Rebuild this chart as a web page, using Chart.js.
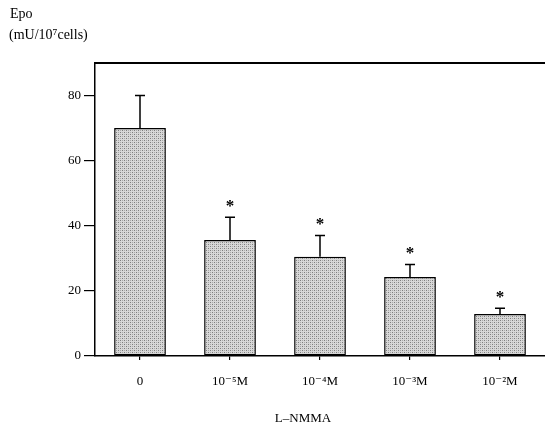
<!DOCTYPE html>
<html>
<head>
<meta charset="utf-8">
<title>Epo vs L-NMMA</title>
<script src="https://cdn.jsdelivr.net/npm/chart.js"></script>
<style>
  body { margin: 0; background: #fff; }
  #wrap { width: 545px; height: 431px; }
</style>
</head>
<body>
<div id="wrap"><canvas id="epoChart" width="545" height="431"></canvas></div>
<script>
// Data
const doses = ['0', '10\u207B\u2075M', '10\u207B\u2074M', '10\u207B\u00B3M', '10\u207B\u00B2M'];
const epoMeans = [70, 35.6, 30.5, 24.3, 12.9];
const epoErrors = [10, 7, 6.5, 3.8, 1.8];
const significant = [false, true, true, true, true];
const yTicks = [0, 20, 40, 60, 80];

const serif = "'Liberation Serif', 'DejaVu Serif', serif";

// Stippled grey fill like the printed bars
function stipple() {
    let c = document.createElement('canvas');
    c.width = 4; c.height = 4;
    let g = c.getContext('2d');
    g.fillStyle = '#d8d8d8';
    g.fillRect(0, 0, 4, 4);
    g.fillStyle = '#7e7e7e';
    g.fillRect(0, 0, 1, 1);
    g.fillRect(2, 2, 1, 1);
    g.fillStyle = '#aaaaaa';
    g.fillRect(2, 0, 1, 1);
    g.fillRect(0, 2, 1, 1);
    return g.createPattern(c, 'repeat');
}

// Error bars, asterisks, top frame line and the free text
const extras = {
    id: 'extras',
    afterDatasetsDraw(chart) {
        const ctx = chart.ctx;
        const y = chart.scales.y;
        const area = chart.chartArea;
        const bars = chart.getDatasetMeta(0).data;
        ctx.save();
        ctx.strokeStyle = '#000';
        ctx.fillStyle = '#000';

        // top frame line
        ctx.lineWidth = 2;
        ctx.beginPath();
        ctx.moveTo(area.left, area.top);
        ctx.lineTo(area.right, area.top);
        ctx.stroke();

        ctx.lineWidth = 1.5;
        bars.forEach((bar, i) => {
            let yBar = y.getPixelForValue(epoMeans[i]);
            let yErr = y.getPixelForValue(epoMeans[i] + epoErrors[i]);
            ctx.beginPath();
            ctx.moveTo(bar.x, yBar);
            ctx.lineTo(bar.x, yErr);
            ctx.moveTo(bar.x - 5, yErr);
            ctx.lineTo(bar.x + 5, yErr);
            ctx.stroke();
            if (significant[i]) {
                ctx.font = 'bold 17px ' + serif;
                ctx.textAlign = 'center';
                ctx.textBaseline = 'middle';
                ctx.fillText('*', bar.x, yErr - 11);
            }
        });

        // axis title texts
        ctx.textAlign = 'left';
        ctx.textBaseline = 'alphabetic';
        ctx.font = '14px ' + serif;
        ctx.fillText('Epo', 10, 18);
        ctx.font = '14px ' + serif;
        ctx.fillText('(mU/10\u2077cells)', 9, 39);
        ctx.textAlign = 'center';
        ctx.font = '13px ' + serif;
        ctx.fillText('L\u2013NMMA', 303, 422);
        ctx.restore();
    }
};

let ctx = document.getElementById('epoChart').getContext('2d');
let epoChart = new Chart(ctx, {
    type: 'bar',
    data: {
        labels: doses,
        datasets: [{
            data: epoMeans,
            backgroundColor: stipple(),
            borderColor: '#000',
            borderWidth: 1.5,
            borderSkipped: false,
            categoryPercentage: 1,
            barPercentage: 0.575
        }]
    },
    options: {
        responsive: false,
        animation: false,
        layout: { padding: { top: 63, right: -3, left: 0, bottom: 0 } },
        plugins: {
            legend: { display: false },
            tooltip: { enabled: false }
        },
        scales: {
            x: {
                afterFit: s => { s.height = 75; },
                grid: {
                    offset: false,
                    drawOnChartArea: false,
                    tickLength: 4,
                    color: '#000',
                    lineWidth: 1.2
                },
                border: { display: true, color: '#000', width: 1.5 },
                ticks: { color: '#000', padding: 14, font: { family: serif, size: 13 } }
            },
            y: {
                min: 0,
                max: 90,
                afterFit: s => { s.width = 95; },
                afterBuildTicks: s => { s.ticks = yTicks.map(v => ({ value: v })); },
                grid: {
                    drawOnChartArea: false,
                    tickLength: 11,
                    color: '#000',
                    lineWidth: 1.2
                },
                border: { display: true, color: '#000', width: 1.5 },
                ticks: { color: '#000', padding: 3, font: { family: serif, size: 13 } }
            }
        }
    },
    plugins: [extras]
});
</script>
</body>
</html>
